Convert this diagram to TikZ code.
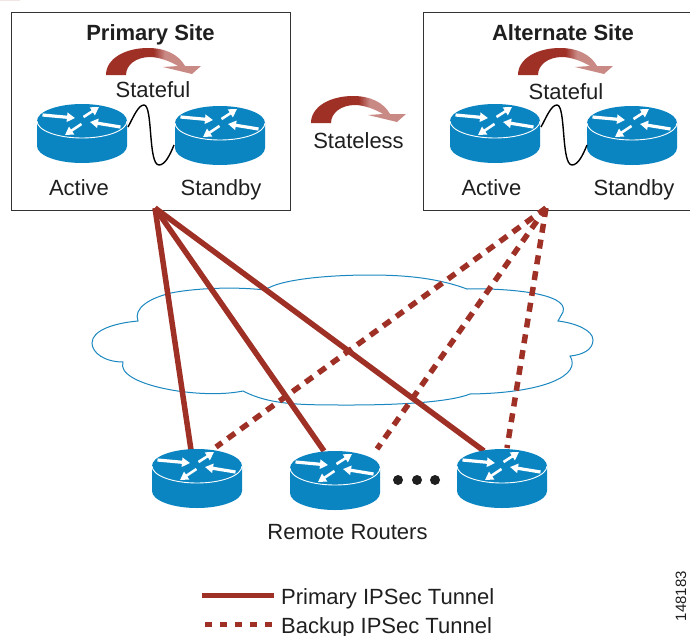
\documentclass[tikz,border=0pt]{standalone}
\usepackage{fontspec}
\setmainfont{Liberation Sans}
\usetikzlibrary{arrows.meta}
\definecolor{ciscoblue}{HTML}{0A85C2}
\definecolor{cloudblue}{HTML}{1B87C0}
\definecolor{tunnelred}{HTML}{9E3026}
\definecolor{fadered}{HTML}{C98A86}
\pgfdeclarehorizontalshading{flowshade}{100bp}{
  color(0bp)=(tunnelred); color(50bp)=(tunnelred); color(56bp)=(fadered); color(100bp)=(fadered)}
\tikzset{
  label22/.style={font=\fontsize{22}{26}\selectfont,text=black!88,anchor=base,inner sep=0pt},
  sitebox/.style={draw=black!80,line width=1.1pt,fill=white,inner sep=0pt,anchor=north west},
  tunnel/.style={tunnelred,line width=5.5pt},
  backup/.style={tunnelred,line width=5.5pt,dash pattern=on 9pt off 7pt},
  routerarrow/.style={white,line width=3.2pt,-{Triangle[length=8pt,width=9pt]}},
  router/.pic={
    \fill[ciscoblue] (-45,0) -- (-45,25) arc[start angle=180,end angle=360,x radius=45,y radius=-17] -- (45,0) -- cycle;
    \fill[ciscoblue] (0,0) ellipse[x radius=45,y radius=17];
    \draw[white,line width=0.9pt] (-45,0) arc[start angle=180,end angle=360,x radius=45,y radius=-17];
    \draw[routerarrow] (-39.5,-6) -- (-7,-3);
    \draw[routerarrow,line width=2.6pt] (1.5,-4) -- (17,-14);
    \draw[routerarrow] (38.5,6) -- (8,1);
    \draw[routerarrow,line width=2.6pt] (-0.5,3) -- (-17,14);
  },
  flow/.pic={
    \path[shading=flowshade] (0,0) .. controls (0,-17) and (20,-27) .. (42,-27)
      .. controls (60,-27) and (73,-20) .. (79,-9) -- (95,-9) -- (86,-1) -- (57,-8) -- (72,-9)
      .. controls (64,-14) and (52,-18) .. (44,-18)
      .. controls (30,-18) and (20,-10) .. (20,0) -- cycle;
  },
  wire/.pic={
    \draw[black,line width=1.4pt] (0,0) .. controls (5,-9) and (10,-22) .. (16,-22)
      .. controls (25,-22) and (20,38) .. (31,38)
      .. controls (37,38) and (42,28) .. (46,18);
  }
}
\begin{document}
\begin{tikzpicture}[x=1pt,y=-1pt]
\useasboundingbox (0,0) rectangle (690,635);
\clip (0,0) rectangle (690,635);
% sites
\node[sitebox,minimum width=279pt,minimum height=198pt] (primary) at (11,12) {};
\node[sitebox,minimum width=290pt,minimum height=198pt] (alternate) at (423,12) {};
\node[label22,font=\fontsize{22}{26}\selectfont\bfseries] (ptitle) at (150.5,40) {Primary Site};
\node[label22,font=\fontsize{22}{26}\selectfont\bfseries] (atitle) at (563,40) {Alternate Site};
\pic {flow};
\path (106,75) pic {flow};
\path (518,75) pic {flow};
\path (311,123) pic {flow};
\node[label22] (pstate) at (153,97) {Stateful};
\node[label22] (astate) at (566,99) {Stateful};
\node[label22] (stateless) at (358.5,148) {Stateless};
% cloud
\draw[cloudblue,line width=1pt,fill=white] (138,321)
  .. controls (133,308) and (150,298) .. (171,293)
  .. controls (190,289) and (230,286) .. (265,290)
  .. controls (280,279) and (330,275) .. (370,275)
  .. controls (410,275) and (440,279) .. (467,289)
  .. controls (500,288) and (570,292) .. (563,312)
  -- (558,321)
  .. controls (575,323) and (593,330) .. (593,340)
  .. controls (593,350) and (582,355) .. (570,356)
  .. controls (582,375) and (545,393) .. (470,394)
  .. controls (450,402) and (400,405) .. (350,405)
  .. controls (300,405) and (270,405) .. (243,391)
  .. controls (200,400) and (115,385) .. (123,362)
  .. controls (105,362) and (92,353) .. (92,343)
  .. controls (92,330) and (115,323) .. (138,321) -- cycle;
% named connector ends
\coordinate (ptip) at (155,208);
\coordinate (atip) at (546,208);
\coordinate (r1p) at (191,450);
\coordinate (r2p) at (324,451);
\coordinate (r3p) at (484,451);
\coordinate (r1b) at (216,447);
\coordinate (r2b) at (377,449);
\coordinate (r3b) at (507,448);
\draw[tunnel] (ptip) -- (r1p);
\draw[tunnel] (ptip) -- (r2p);
\draw[tunnel] (ptip) -- (r3p);
\draw[backup] (atip) -- (r1b);
\draw[backup] (atip) -- (r2b);
\draw[backup] (atip) -- (r3b);
% site routers
\path (82,121) pic {router};
\path (220,123) pic {router};
\path (495,121) pic {router};
\path (632,123) pic {router};
\path (128,127) pic {wire};
\path (541,127) pic {wire};
\node[label22] (pa) at (79,195) {Active};
\node[label22] (ps) at (221,195) {Standby};
\node[label22] (aa) at (491.5,195) {Active};
\node[label22] (as) at (634,195) {Standby};
% remote routers
\path (197,466) pic {router};
\path (335,468) pic {router};
\path (502,466) pic {router};
\fill[black!88] (398,480) circle[radius=5];
\fill[black!88] (417,480) circle[radius=5];
\fill[black!88] (435,480) circle[radius=5];
\node[label22] (remote) at (347.5,539) {Remote Routers};
% legend
\coordinate (la) at (202,595);
\coordinate (lb) at (274,595);
\coordinate (lc) at (205,624);
\coordinate (ld) at (274,624);
\draw[tunnel,line width=5pt] (la) -- (lb);
\draw[tunnel,line width=5pt,dash pattern=on 7pt off 8pt] (lc) -- (ld);
\node[label22,anchor=base west] (lp) at (281,604) {Primary IPSec Tunnel};
\node[label22,anchor=base west] (lq) at (281,633) {Backup IPSec Tunnel};
\node[font=\fontsize{15}{18}\selectfont,text=black!88,rotate=90,inner sep=0pt] (fig) at (681,596) {148183};
\end{tikzpicture}
\end{document}
